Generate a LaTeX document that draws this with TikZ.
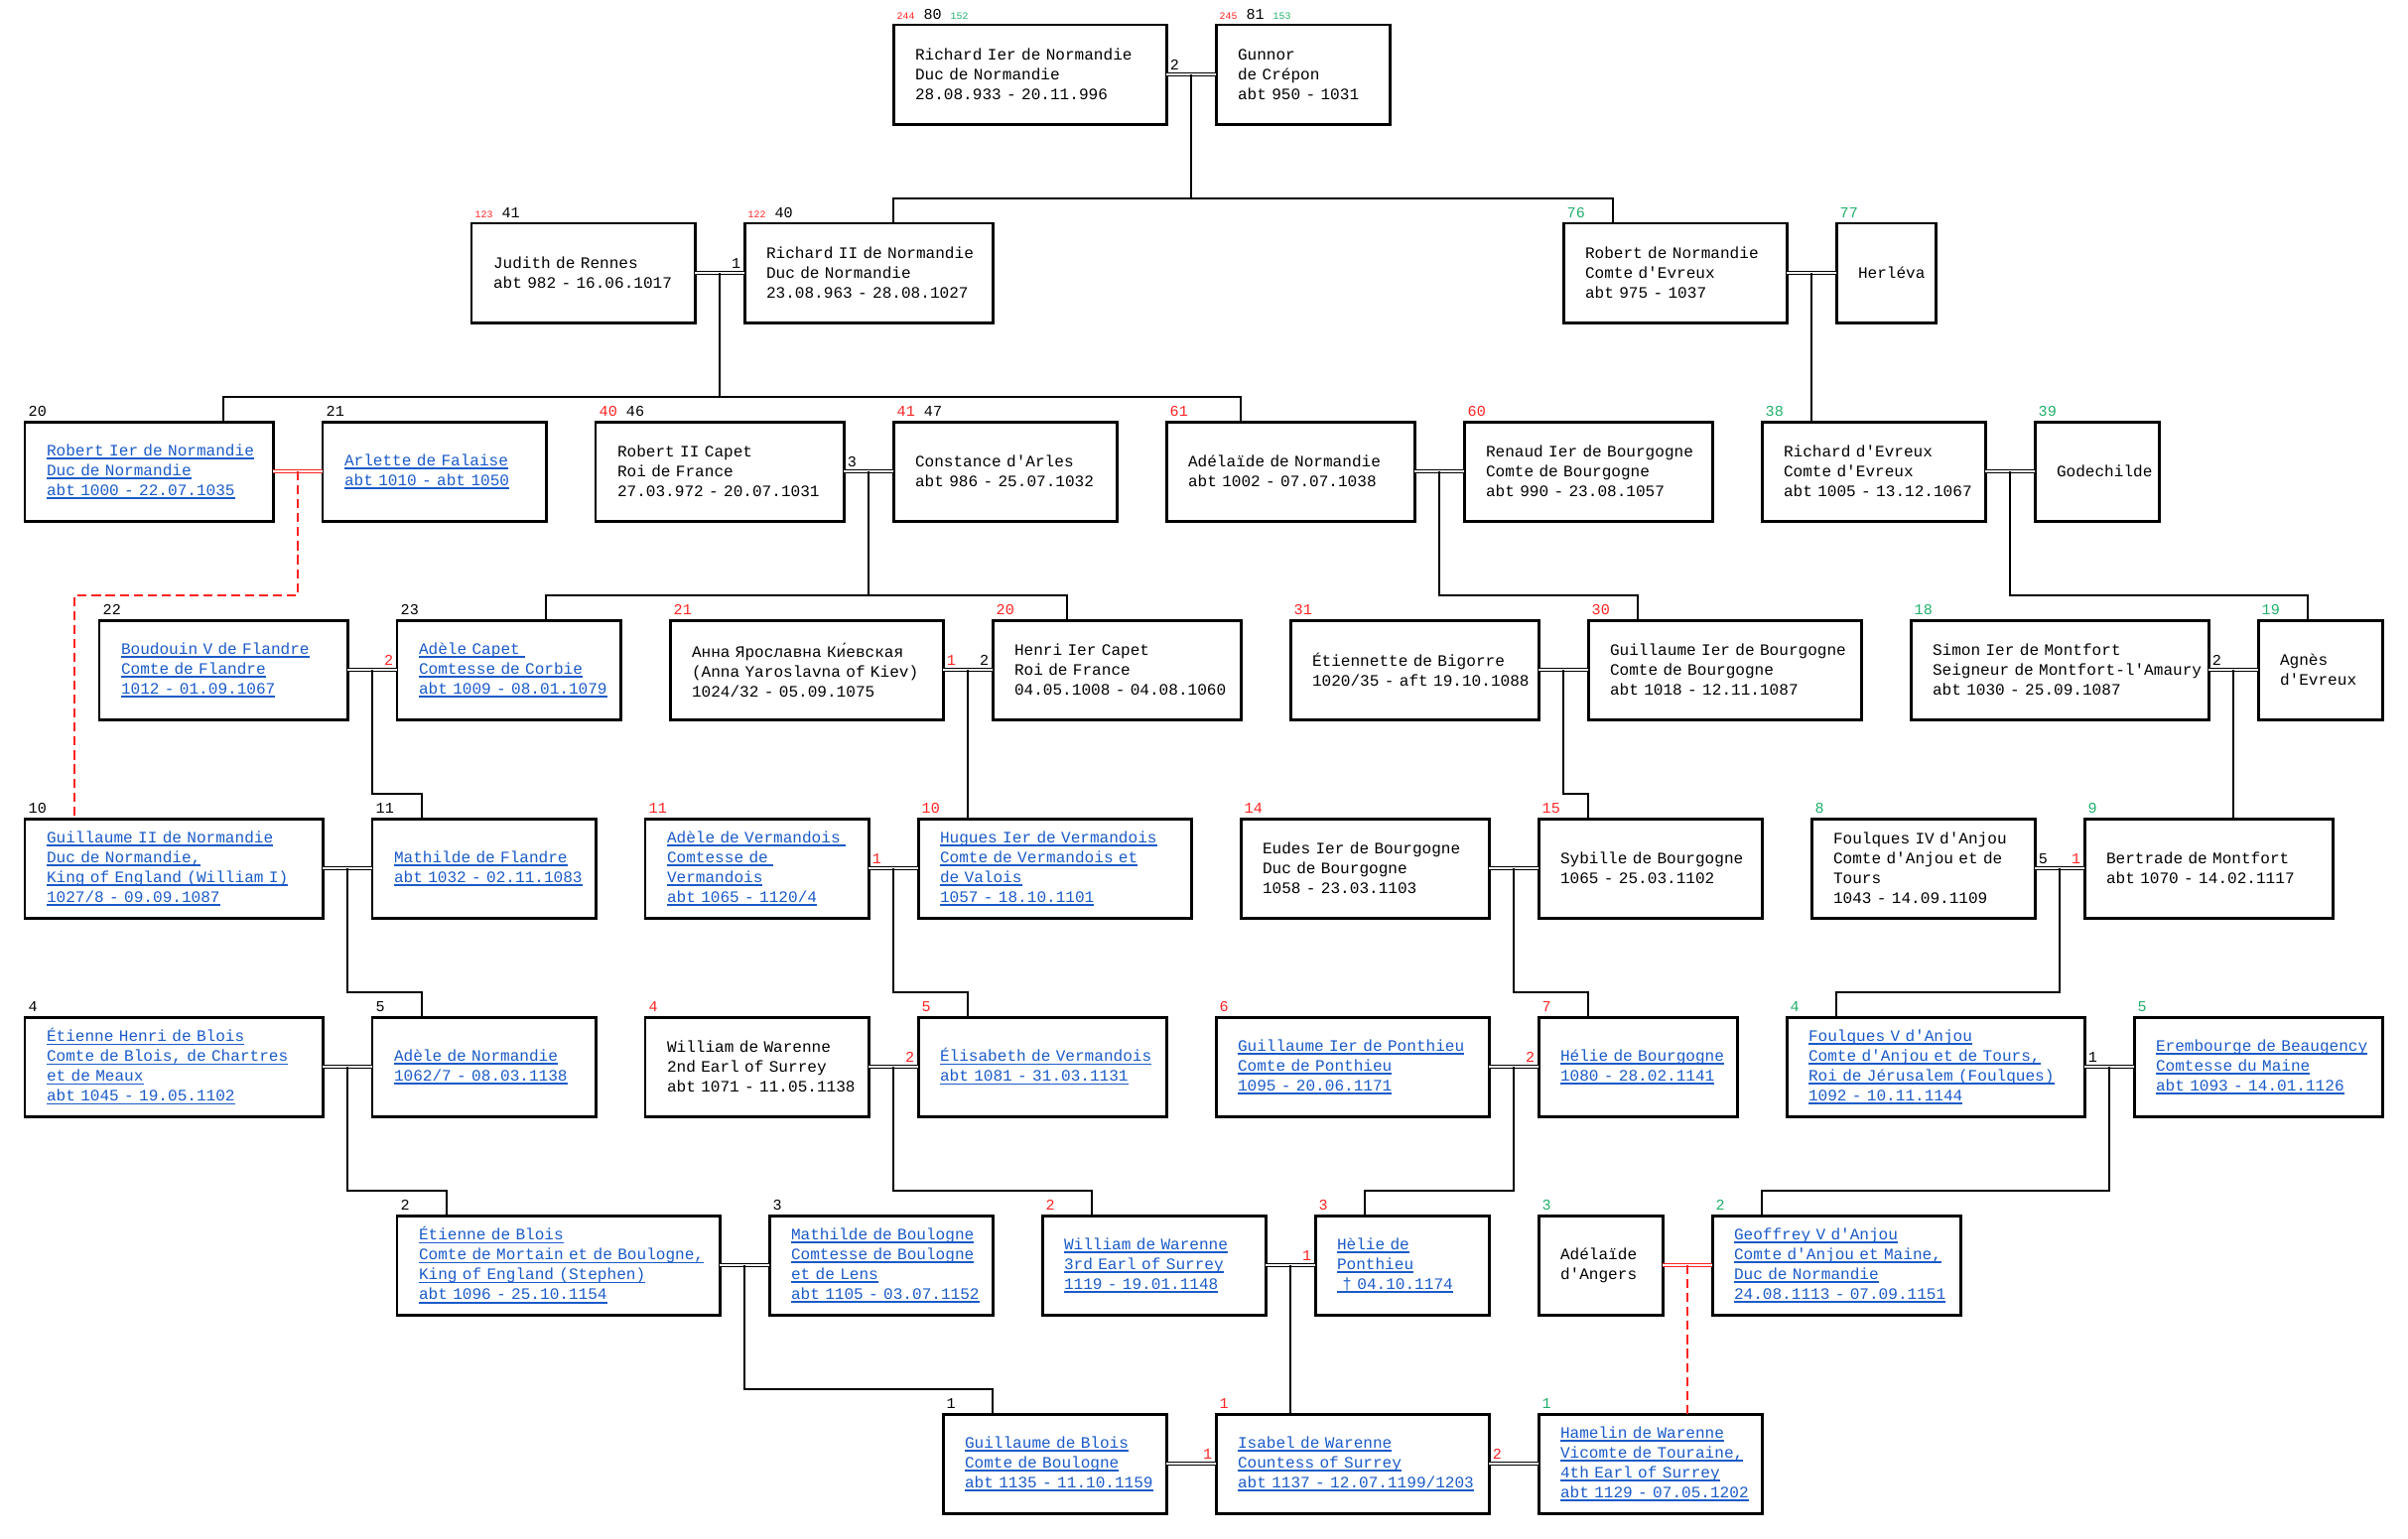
\documentclass[tikz,border=0pt]{standalone}
\usepackage{fontspec}
\newfontfamily\pfont[Ligatures=TeXOff]{Liberation Mono}
\usetikzlibrary{calc}
\definecolor{lnkblue}{HTML}{1A5AC8}
\definecolor{numred}{HTML}{FF2222}
\definecolor{numgreen}{HTML}{1FAF6A}
\newcommand{\boxfont}{\pfont\fontsize{4.57pt}{5.69pt}\selectfont}
\newcommand{\numfont}{\pfont\fontsize{4.3pt}{5pt}\selectfont}
\newcommand{\tinyfont}{\pfont\fontsize{2.8pt}{3pt}\selectfont}
\newcommand{\R}[1]{\textcolor{numred}{#1}}
\newcommand{\G}[1]{\textcolor{numgreen}{#1}}
\newcommand{\sm}[1]{{\tinyfont #1}}
\newsavebox{\lnkbox}
\newcommand{\lnk}[1]{\leavevmode\sbox{\lnkbox}{#1}\rlap{\rule[-1pt]{\wd\lnkbox}{0.4pt}}\usebox{\lnkbox}}
\newcommand{\tx}[1]{\mbox{#1}}
\setlength{\parindent}{0pt}

\begin{document}
\begin{tikzpicture}[
  x=0.01cm, y=-0.01cm,
  person/.style={draw, line width=0.85pt, outer sep=0pt, inner xsep=0.22cm, inner ysep=0pt,
    minimum height=1cm, anchor=north west, align=left, font=\boxfont},
  link/.style={person, text=lnkblue},
  wd/.code={\pgfmathsetmacro\boxtw{#1-0.44}\tikzset{minimum width=#1cm, text width=\boxtw cm}},
  num/.style={font=\numfont, inner sep=0pt},
  line/.style={line width=0.5pt},
  wed/.style={double, line width=0.35pt, double distance=0.55pt},
  redwed/.style={wed, draw=numred},
  reddash/.style={line, draw=numred, dash pattern=on 2.6pt off 1.4pt},
]
\useasboundingbox (0,0) rectangle (2426,1551);

% ---------- generation 8 ----------
\node[person, wd=2.75] (p80) at (900,25) {\tx{Richard Ier de Normandie}\\\tx{Duc de Normandie}\\\tx{28.08.933 - 20.11.996}};
\node[person, wd=1.75] (p81) at (1225,25) {\tx{Gunnor}\\\tx{de Crépon}\\\tx{abt 950 - 1031}};

% ---------- generation 7 ----------
\node[person, wd=2.25] (p41) at (475,225) {\tx{Judith de Rennes}\\\tx{abt 982 - 16.06.1017}};
\node[person, wd=2.5] (p40) at (750,225) {\tx{Richard II de Normandie}\\\tx{Duc de Normandie}\\\tx{23.08.963 - 28.08.1027}};
\node[person, wd=2.25] (p76) at (1575,225) {\tx{Robert de Normandie}\\\tx{Comte d'Evreux}\\\tx{abt 975 - 1037}};
\node[person, wd=1.0] (p77) at (1850,225) {\tx{Herléva}};

% ---------- generation 6 ----------
\node[link, wd=2.5] (p20) at (25,425) {\lnk{Robert Ier de Normandie}\\\lnk{Duc de Normandie}\\\lnk{abt 1000 - 22.07.1035}};
\node[link, wd=2.25] (p21) at (325,425) {\lnk{Arlette de Falaise}\\\lnk{abt 1010 - abt 1050}};
\node[person, wd=2.5] (p46) at (600,425) {\tx{Robert II Capet}\\\tx{Roi de France}\\\tx{27.03.972 - 20.07.1031}};
\node[person, wd=2.25] (p47) at (900,425) {\tx{Constance d'Arles}\\\tx{abt 986 - 25.07.1032}};
\node[person, wd=2.5] (p61) at (1175,425) {\tx{Adélaïde de Normandie}\\\tx{abt 1002 - 07.07.1038}};
\node[person, wd=2.5] (p60) at (1475,425) {\tx{Renaud Ier de Bourgogne}\\\tx{Comte de Bourgogne}\\\tx{abt 990 - 23.08.1057}};
\node[person, wd=2.25] (p38) at (1775,425) {\tx{Richard d'Evreux}\\\tx{Comte d'Evreux}\\\tx{abt 1005 - 13.12.1067}};
\node[person, wd=1.25] (p39) at (2050,425) {\tx{Godechilde}};

% ---------- generation 5 ----------
\node[link, wd=2.5] (p22) at (100,625) {\lnk{Boudouin V de Flandre}\\\lnk{Comte de Flandre}\\\lnk{1012 - 01.09.1067}};
\node[link, wd=2.25] (p23) at (400,625) {\lnk{Adèle Capet }\\\lnk{Comtesse de Corbie}\\\lnk{abt 1009 - 08.01.1079}};
\node[person, wd=2.75] (p21r) at (675,625) {\tx{Анна Ярославна Ки^^^^0301евская}\\\tx{(Anna Yaroslavna of Kiev)}\\\tx{1024/32 - 05.09.1075}};
\node[person, wd=2.5] (p20r) at (1000,625) {\tx{Henri Ier Capet}\\\tx{Roi de France}\\\tx{04.05.1008 - 04.08.1060}};
\node[person, wd=2.5] (p31) at (1300,625) {\tx{Étiennette de Bigorre}\\\tx{1020/35 - aft 19.10.1088}};
\node[person, wd=2.75] (p30) at (1600,625) {\tx{Guillaume Ier de Bourgogne}\\\tx{Comte de Bourgogne}\\\tx{abt 1018 - 12.11.1087}};
\node[person, wd=3.0] (p18) at (1925,625) {\tx{Simon Ier de Montfort}\\\tx{Seigneur de Montfort-l'Amaury}\\\tx{abt 1030 - 25.09.1087}};
\node[person, wd=1.25] (p19) at (2275,625) {\tx{Agnès}\\\tx{d'Evreux}};

% ---------- generation 4 ----------
\node[link, wd=3.0] (p10) at (25,825) {\lnk{Guillaume II de Normandie}\\\lnk{Duc de Normandie,}\\\lnk{King of England (William I)}\\\lnk{1027/8 - 09.09.1087}};
\node[link, wd=2.25] (p11) at (375,825) {\lnk{Mathilde de Flandre}\\\lnk{abt 1032 - 02.11.1083}};
\node[link, wd=2.25] (p11r) at (650,825) {\lnk{Adèle de Vermandois }\\\lnk{Comtesse de }\\\lnk{Vermandois}\\\lnk{abt 1065 - 1120/4}};
\node[link, wd=2.75] (p10r) at (925,825) {\lnk{Hugues Ier de Vermandois}\\\lnk{Comte de Vermandois et}\\\lnk{de Valois}\\\lnk{1057 - 18.10.1101}};
\node[person, wd=2.5] (p14) at (1250,825) {\tx{Eudes Ier de Bourgogne}\\\tx{Duc de Bourgogne}\\\tx{1058 - 23.03.1103}};
\node[person, wd=2.25] (p15) at (1550,825) {\tx{Sybille de Bourgogne}\\\tx{1065 - 25.03.1102}};
\node[person, wd=2.25] (p8) at (1825,825) {\tx{Foulques IV d'Anjou}\\\tx{Comte d'Anjou et de}\\\tx{Tours}\\\tx{1043 - 14.09.1109}};
\node[person, wd=2.5] (p9) at (2100,825) {\tx{Bertrade de Montfort}\\\tx{abt 1070 - 14.02.1117}};

% ---------- generation 3 ----------
\node[link, wd=3.0] (p4) at (25,1025) {\lnk{Étienne Henri de Blois}\\\lnk{Comte de Blois, de Chartres}\\\lnk{et de Meaux}\\\lnk{abt 1045 - 19.05.1102}};
\node[link, wd=2.25] (p5) at (375,1025) {\lnk{Adèle de Normandie}\\\lnk{1062/7 - 08.03.1138}};
\node[person, wd=2.25] (p4r) at (650,1025) {\tx{William de Warenne}\\\tx{2nd Earl of Surrey}\\\tx{abt 1071 - 11.05.1138}};
\node[link, wd=2.5] (p5r) at (925,1025) {\lnk{Élisabeth de Vermandois}\\\lnk{abt 1081 - 31.03.1131}};
\node[link, wd=2.75] (p6) at (1225,1025) {\lnk{Guillaume Ier de Ponthieu}\\\lnk{Comte de Ponthieu}\\\lnk{1095 - 20.06.1171}};
\node[link, wd=2.0] (p7) at (1550,1025) {\lnk{Hélie de Bourgogne}\\\lnk{1080 - 28.02.1141}};
\node[link, wd=3.0] (p4g) at (1800,1025) {\lnk{Foulques V d'Anjou}\\\lnk{Comte d'Anjou et de Tours,}\\\lnk{Roi de Jérusalem (Foulques)}\\\lnk{1092 - 10.11.1144}};
\node[link, wd=2.5] (p5g) at (2150,1025) {\lnk{Erembourge de Beaugency}\\\lnk{Comtesse du Maine}\\\lnk{abt 1093 - 14.01.1126}};

% ---------- generation 2 ----------
\node[link, wd=3.25] (p2) at (400,1225) {\lnk{Étienne de Blois}\\\lnk{Comte de Mortain et de Boulogne,}\\\lnk{King of England (Stephen)}\\\lnk{abt 1096 - 25.10.1154}};
\node[link, wd=2.25] (p3) at (775,1225) {\lnk{Mathilde de Boulogne}\\\lnk{Comtesse de Boulogne}\\\lnk{et de Lens}\\\lnk{abt 1105 - 03.07.1152}};
\node[link, wd=2.25] (p2r) at (1050,1225) {\lnk{William de Warenne}\\\lnk{3rd Earl of Surrey}\\\lnk{1119 - 19.01.1148}};
\node[link, wd=1.75] (p3r) at (1325,1225) {\lnk{Hèlie de}\\\lnk{Ponthieu}\\\lnk{\ †\ 04.10.1174}};
\node[person, wd=1.25] (p3g) at (1550,1225) {\tx{Adélaïde}\\\tx{d'Angers}};
\node[link, wd=2.5] (p2g) at (1725,1225) {\lnk{Geoffrey V d'Anjou}\\\lnk{Comte d'Anjou et Maine,}\\\lnk{Duc de Normandie}\\\lnk{24.08.1113 - 07.09.1151}};

% ---------- generation 1 ----------
\node[link, wd=2.25] (p1) at (950,1425) {\lnk{Guillaume de Blois}\\\lnk{Comte de Boulogne}\\\lnk{abt 1135 - 11.10.1159}};
\node[link, wd=2.75] (p1r) at (1225,1425) {\lnk{Isabel de Warenne}\\\lnk{Countess of Surrey}\\\lnk{abt 1137 - 12.07.1199/1203}};
\node[link, wd=2.25] (p1g) at (1550,1425) {\lnk{Hamelin de Warenne}\\\lnk{Vicomte de Touraine,}\\\lnk{4th Earl of Surrey}\\\lnk{abt 1129 - 07.05.1202}};

% numbers above the boxes
\foreach \who/\txt in {p80/{\sm{\R{244}} 80 \sm{\G{152}}}, p81/{\sm{\R{245}} 81 \sm{\G{153}}},
  p41/{\sm{\R{123}} 41}, p40/{\sm{\R{122}} 40}, p76/{\G{76}}, p77/{\G{77}},
  p20/20, p21/21, p46/{\R{40} 46}, p47/{\R{41} 47}, p61/{\R{61}}, p60/{\R{60}}, p38/{\G{38}}, p39/{\G{39}},
  p22/22, p23/23, p21r/{\R{21}}, p20r/{\R{20}}, p31/{\R{31}}, p30/{\R{30}}, p18/{\G{18}}, p19/{\G{19}},
  p10/10, p11/11, p11r/{\R{11}}, p10r/{\R{10}}, p14/{\R{14}}, p15/{\R{15}}, p8/{\G{8}}, p9/{\G{9}},
  p4/4, p5/5, p4r/{\R{4}}, p5r/{\R{5}}, p6/{\R{6}}, p7/{\R{7}}, p4g/{\G{4}}, p5g/{\G{5}},
  p2/2, p3/3, p2r/{\R{2}}, p3r/{\R{3}}, p3g/{\G{3}}, p2g/{\G{2}},
  p1/1, p1r/{\R{1}}, p1g/{\G{1}}}
  \node[num, anchor=south west] (n\who) at ([xshift=0.03cm,yshift=0.05cm]\who.north west) {\txt};

% marriages
\foreach \ha/\wi in {p80/p81, p41/p40, p76/p77, p46/p47, p61/p60, p38/p39, p22/p23, p21r/p20r,
  p31/p30, p18/p19, p10/p11, p11r/p10r, p14/p15, p8/p9, p4/p5, p4r/p5r, p6/p7, p4g/p5g,
  p2/p3, p2r/p3r, p1/p1r, p1r/p1g} {
  \draw[wed] (\ha.east) -- (\wi.west);
  \coordinate (f\ha) at ($(\ha.east)!.5!(\wi.west)$);
}
\foreach \ha/\wi in {p20/p21, p3g/p2g} {
  \draw[redwed] (\ha.east) -- (\wi.west);
  \coordinate (f\ha) at ($(\ha.east)!.5!(\wi.west)$);
}

% marriage order numbers
\foreach \who/\txt in {p80/2, p46/3, p21r/{\R{1}}, p18/2, p11r/{\R{1}}, p8/5, p4g/1, p1r/{\R{2}}}
  \node[num, anchor=south west] (l\who) at ([xshift=0.03cm,yshift=0.04cm]\who.east) {\txt};
\foreach \who/\txt in {p40/1, p23/{\R{2}}, p20r/2, p9/{\R{1}}, p5r/{\R{2}}, p7/{\R{2}}, p3r/{\R{1}}, p1r/{\R{1}}}
  \node[num, anchor=south east] (r\who) at ([xshift=-0.03cm,yshift=0.04cm]\who.west) {\txt};

% descent lines
\foreach \fam/\kid/\dx in {p80/p40/1.5, p80/p76/0.5, p41/p20/2, p41/p61/0.75, p46/p23/1.5, p46/p20r/0.75,
  p61/p30/0.5, p38/p19/0.5, p22/p11/0.5, p31/p15/0.5, p10/p5/0.5, p11r/p5r/0.5, p14/p7/0.5,
  p8/p4g/0.5, p4/p2/0.5, p4r/p2r/0.5, p6/p3r/0.5, p4g/p2g/0.5, p2/p1/0.5}
  \draw[line] (f\fam) -- ++(0,125) -| ([xshift=\dx cm]\kid.north west);
\foreach \fam/\kid in {p76/p38, p21r/p10r, p18/p9, p2r/p1r}
  \draw[line] (f\fam) -- (f\fam |- \kid.north);
\draw[reddash] (fp20) -- ++(0,125) -| ([xshift=0.5cm]p10.north west);
\draw[reddash] (fp3g) -- (fp3g |- p1g.north);
\end{tikzpicture}
\end{document}
